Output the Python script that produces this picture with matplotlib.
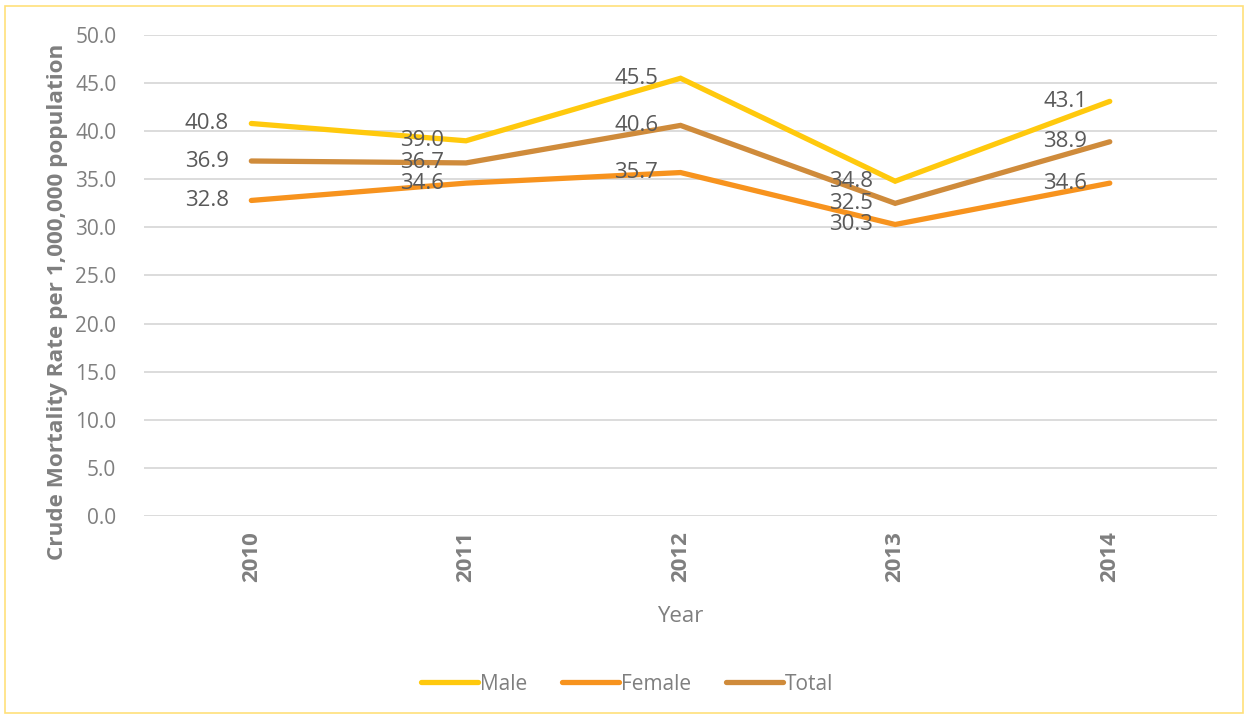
import matplotlib

matplotlib.use("Agg")
import matplotlib.pyplot as plt
from matplotlib.patches import Rectangle

plt.rcParams["font.family"] = ["Open Sans", "DejaVu Sans"]

years = ["2010", "2011", "2012", "2013", "2014"]
male = [40.8, 39.0, 45.5, 34.8, 43.1]
female = [32.8, 34.6, 35.7, 30.3, 34.6]
total = [36.9, 36.7, 40.6, 32.5, 38.9]

SERIES = [("Male", male, "#FFC90D"),
          ("Female", female, "#F7931E"),
          ("Total", total, "#CF8B3B")]

TICK_GREY = "#7F7F7F"
LABEL_GREY = "#595959"

fig = plt.figure(figsize=(12.47, 7.18), dpi=100)
ax = fig.add_axes([0.1155, 0.2813, 0.8605, 0.67])

x = list(range(len(years)))
for name, vals, col in SERIES:
    ax.plot(x, vals, color=col, lw=3.8, solid_capstyle="round",
            solid_joinstyle="miter", label=name, zorder=3)
    for xi, v in zip(x, vals):
        ax.annotate(f"{v:.1f}", (xi, v), xytext=(-16, 0), textcoords="offset points",
                    ha="right", va="center", fontsize=16, color=LABEL_GREY, zorder=4)

ax.set_xlim(-0.5, len(years) - 0.5)
ax.set_ylim(0, 50)
ax.set_yticks(range(0, 51, 5))
ax.set_yticklabels([f"{t:.1f}" for t in range(0, 51, 5)])
ax.set_xticks(x)
ax.set_xticklabels(years, rotation=90, fontweight="bold")
ax.tick_params(axis="y", length=0, pad=20, labelsize=15, labelcolor=TICK_GREY)
ax.tick_params(axis="x", length=0, pad=11, labelsize=16, labelcolor=TICK_GREY)
ax.grid(axis="y", color="#D9D9D9", lw=1.3, zorder=0)
for s in ax.spines.values():
    s.set_visible(False)

ax.set_ylabel("Crude Mortality Rate per 1,000,000 population", fontsize=16.2,
              fontweight="bold", color=TICK_GREY)
ax.yaxis.set_label_coords(-0.071, 0.445)
ax.set_xlabel("Year", fontsize=16, color=TICK_GREY, labelpad=17)

leg = fig.legend(loc="center", bbox_to_anchor=(0.503, 0.047), ncol=3, frameon=False,
                 fontsize=15, handlelength=2.7, handletextpad=0.1, columnspacing=1.7)
for t in leg.get_texts():
    t.set_color(TICK_GREY)

# thin yellow frame around the chart
fig.patches.append(Rectangle((0.004, 0.007), 0.993, 0.985, transform=fig.transFigure,
                             fill=False, edgecolor="#FFE07A", lw=1.2))

fig.savefig("out.png", dpi=100)
